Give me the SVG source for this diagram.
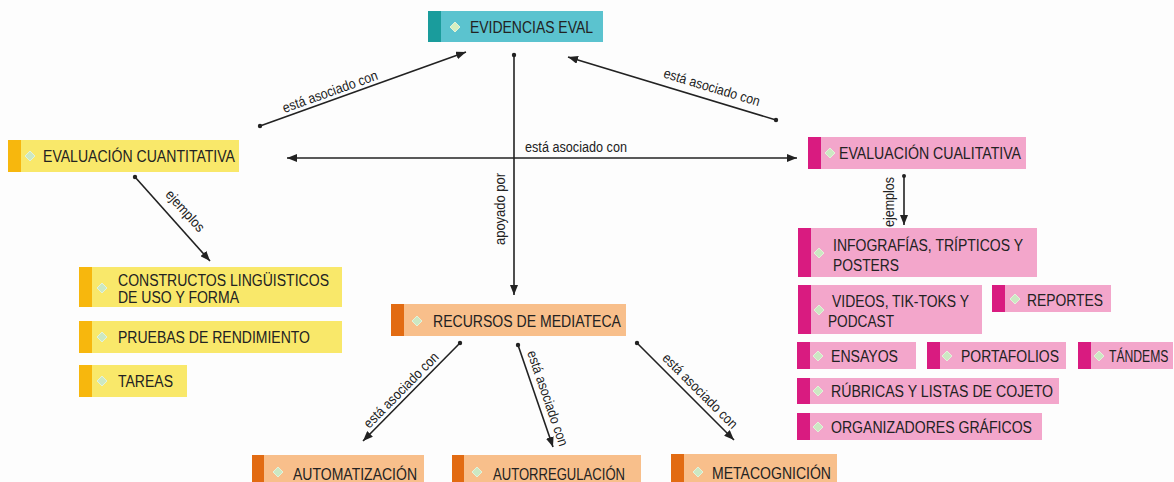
<svg xmlns="http://www.w3.org/2000/svg" xmlns:xlink="http://www.w3.org/1999/xlink" width="1174" height="482" viewBox="0 0 1174 482">
<style>
text{font-family:"Liberation Sans",Arial,sans-serif;fill:#222;}
.t{font-size:16px;}
.lbl{font-size:14px;}
.tb{fill:#5bc3cf}.ts{fill:#1a9c9c}
.yb{fill:#f9e86a}.ys{fill:#f7b70d}
.pb{fill:#f3a6cb}.ps{fill:#d91b80}
.ob{fill:#f8bf8b}.os{fill:#e26b12}
.d{fill:#cce8c3;stroke:#e2f2da;stroke-width:1}
.c path{fill:none;stroke:#222;stroke-width:1.6}
.c circle{fill:#222}
</style>
<defs>
<marker id="ah" viewBox="0 0 10 8" refX="10" refY="4" markerWidth="10" markerHeight="8" markerUnits="userSpaceOnUse" orient="auto-start-reverse"><path d="M0,0 L10,4 L0,8 Z" fill="#222"/></marker>
<path id="dia" d="M0,-5 L5,0 L0,5 L-5,0 Z"/>
</defs>
<rect width="1174" height="482" fill="#fdfdfd"/>
<g class="c" id="connectors">
<path d="M260,126 L466,52" marker-end="url(#ah)"/><circle cx="260" cy="126" r="2.2"/>
<path d="M776,120 L568,57" marker-end="url(#ah)"/><circle cx="776" cy="120" r="2.2"/>
<path d="M287,158 L797,158" marker-start="url(#ah)" marker-end="url(#ah)"/>
<path d="M514,55 L514,295" marker-end="url(#ah)"/><circle cx="514" cy="55" r="2.2"/>
<path d="M904,176 L904,225" marker-end="url(#ah)"/><circle cx="904" cy="176" r="2"/>
<path d="M135,177 L210,261" marker-end="url(#ah)"/><circle cx="135" cy="177" r="2.2"/>
<path d="M460,343 L363,441" marker-end="url(#ah)"/><circle cx="460" cy="343" r="2.2"/>
<path d="M518,345 L553,447" marker-end="url(#ah)"/><circle cx="518" cy="345" r="2.2"/>
<path d="M637,343 L734,440" marker-end="url(#ah)"/><circle cx="637" cy="343" r="2.2"/>
<text class="lbl" transform="translate(333,99.8) rotate(-19.76)" x="0" y="-4" text-anchor="middle" textLength="100" lengthAdjust="spacingAndGlyphs">está asociado con</text>
<text class="lbl" transform="translate(708.2,99.5) rotate(16.85)" x="0" y="-8" text-anchor="middle" textLength="100" lengthAdjust="spacingAndGlyphs">está asociado con</text>
<text class="lbl" x="576" y="152" text-anchor="middle" textLength="102" lengthAdjust="spacingAndGlyphs">está asociado con</text>
<text class="lbl" transform="translate(514,209) rotate(-90)" x="0" y="-9" text-anchor="middle" textLength="72" lengthAdjust="spacingAndGlyphs">apoyado por</text>
<text class="lbl" transform="translate(904,202) rotate(-90)" x="0" y="-10" text-anchor="middle" textLength="50" lengthAdjust="spacingAndGlyphs">ejemplos</text>
<text class="lbl" transform="translate(174.2,220.7) rotate(48.2)" x="0" y="-10" text-anchor="middle" textLength="51" lengthAdjust="spacingAndGlyphs">ejemplos</text>
<text class="lbl" transform="translate(407.3,396.2) rotate(-45.3)" x="0" y="-4" text-anchor="middle" textLength="100" lengthAdjust="spacingAndGlyphs">está asociado con</text>
<text class="lbl" transform="translate(537.5,401.7) rotate(71.1)" x="0" y="-6" text-anchor="middle" textLength="100" lengthAdjust="spacingAndGlyphs">está asociado con</text>
<text class="lbl" transform="translate(692.5,398.5) rotate(45)" x="0" y="-6" text-anchor="middle" textLength="100" lengthAdjust="spacingAndGlyphs">está asociado con</text>
</g>
<g id="n-evidencias"><rect class="tb" x="428" y="11" width="175" height="31"/><rect class="ts" x="428" y="11" width="13" height="31"/><use href="#dia" class="d" x="455" y="27" style="fill:#d6efc0"/><text class="t" x="470" y="33" textLength="123" lengthAdjust="spacingAndGlyphs">EVIDENCIAS EVAL</text></g>
<g id="n-cuantitativa"><rect class="yb" x="8" y="140" width="231" height="32"/><rect class="ys" x="8" y="140" width="13" height="32"/><use href="#dia" class="d" x="30" y="156"/><text class="t" x="43" y="162" textLength="192" lengthAdjust="spacingAndGlyphs">EVALUACIÓN CUANTITATIVA</text></g>
<g id="n-cualitativa"><rect class="pb" x="808" y="137" width="218" height="32"/><rect class="ps" x="808" y="137" width="13" height="32"/><use href="#dia" class="d" x="830" y="153"/><text class="t" x="839" y="159" textLength="182" lengthAdjust="spacingAndGlyphs">EVALUACIÓN CUALITATIVA</text></g>
<g id="n-infografias"><rect class="pb" x="798" y="228" width="239" height="49"/><rect class="ps" x="798" y="228" width="13" height="49"/><use href="#dia" class="d" x="819" y="253"/><text class="t" x="833" y="251" textLength="190" lengthAdjust="spacingAndGlyphs">INFOGRAFÍAS, TRÍPTICOS Y</text><text class="t" x="833" y="271" textLength="66" lengthAdjust="spacingAndGlyphs">POSTERS</text></g>
<g id="n-videos"><rect class="pb" x="798" y="285" width="184" height="49"/><rect class="ps" x="798" y="285" width="13" height="49"/><use href="#dia" class="d" x="819" y="310"/><text class="t" x="832" y="307" textLength="137" lengthAdjust="spacingAndGlyphs">VIDEOS, TIK-TOKS Y</text><text class="t" x="828" y="327" textLength="66" lengthAdjust="spacingAndGlyphs">PODCAST</text></g>
<g id="n-reportes"><rect class="pb" x="992" y="285" width="119" height="27"/><rect class="ps" x="992" y="285" width="13" height="27"/><use href="#dia" class="d" x="1015" y="299"/><text class="t" x="1027" y="306" textLength="76" lengthAdjust="spacingAndGlyphs">REPORTES</text></g>
<g id="n-ensayos"><rect class="pb" x="797" y="342" width="119" height="27"/><rect class="ps" x="797" y="342" width="13" height="27"/><use href="#dia" class="d" x="818" y="356"/><text class="t" x="831" y="362" textLength="67" lengthAdjust="spacingAndGlyphs">ENSAYOS</text></g>
<g id="n-portafolios"><rect class="pb" x="927" y="342" width="139" height="27"/><rect class="ps" x="927" y="342" width="13" height="27"/><use href="#dia" class="d" x="947" y="356"/><text class="t" x="961" y="362" textLength="98" lengthAdjust="spacingAndGlyphs">PORTAFOLIOS</text></g>
<g id="n-tandems"><rect class="pb" x="1078" y="342" width="95" height="27"/><rect class="ps" x="1078" y="342" width="13" height="27"/><use href="#dia" class="d" x="1099" y="356"/><text class="t" transform="translate(1109,362) scale(0.76,1)" x="0" y="0">TÁNDEMS</text></g>
<g id="n-rubricas"><rect class="pb" x="797" y="378" width="262" height="26"/><rect class="ps" x="797" y="378" width="13" height="26"/><use href="#dia" class="d" x="818" y="391"/><text class="t" x="831" y="397" textLength="222" lengthAdjust="spacingAndGlyphs">RÚBRICAS Y LISTAS DE COJETO</text></g>
<g id="n-organizadores"><rect class="pb" x="797" y="413" width="245" height="27"/><rect class="ps" x="797" y="413" width="13" height="27"/><use href="#dia" class="d" x="818" y="427"/><text class="t" x="831" y="433" textLength="201" lengthAdjust="spacingAndGlyphs">ORGANIZADORES GRÁFICOS</text></g>
<g id="n-constructos"><rect class="yb" x="79" y="267" width="263" height="40"/><rect class="ys" x="79" y="267" width="13" height="40"/><use href="#dia" class="d" x="102" y="288"/><text class="t" x="118" y="286" textLength="211" lengthAdjust="spacingAndGlyphs">CONSTRUCTOS LINGÜISTICOS</text><text class="t" x="118" y="303" textLength="121" lengthAdjust="spacingAndGlyphs">DE USO Y FORMA</text></g>
<g id="n-pruebas"><rect class="yb" x="79" y="321" width="263" height="32"/><rect class="ys" x="79" y="321" width="13" height="32"/><use href="#dia" class="d" x="102" y="337"/><text class="t" x="118" y="343" textLength="192" lengthAdjust="spacingAndGlyphs">PRUEBAS DE RENDIMIENTO</text></g>
<g id="n-tareas"><rect class="yb" x="79" y="365" width="108" height="32"/><rect class="ys" x="79" y="365" width="13" height="32"/><use href="#dia" class="d" x="102" y="381"/><text class="t" x="118" y="387" textLength="55" lengthAdjust="spacingAndGlyphs">TAREAS</text></g>
<g id="n-recursos"><rect class="ob" x="391" y="304" width="235" height="32"/><rect class="os" x="391" y="304" width="13" height="32"/><use href="#dia" class="d" x="417" y="321"/><text class="t" x="433" y="327" textLength="188" lengthAdjust="spacingAndGlyphs">RECURSOS DE MEDIATECA</text></g>
<g id="n-automatizacion"><rect class="ob" x="252" y="455" width="172" height="32"/><rect class="os" x="252" y="455" width="12" height="32"/><use href="#dia" class="d" x="278" y="472"/><text class="t" x="293" y="480" textLength="124" lengthAdjust="spacingAndGlyphs">AUTOMATIZACIÓN</text></g>
<g id="n-autorregulacion"><rect class="ob" x="452" y="455" width="189" height="32"/><rect class="os" x="452" y="455" width="12" height="32"/><use href="#dia" class="d" x="477" y="472"/><text class="t" x="493" y="480" textLength="132" lengthAdjust="spacingAndGlyphs">AUTORREGULACIÓN</text></g>
<g id="n-metacognicion"><rect class="ob" x="671" y="454" width="166" height="33"/><rect class="os" x="671" y="454" width="13" height="33"/><use href="#dia" class="d" x="698" y="472"/><text class="t" x="712" y="479" textLength="119" lengthAdjust="spacingAndGlyphs">METACOGNICIÓN</text></g>
</svg>
